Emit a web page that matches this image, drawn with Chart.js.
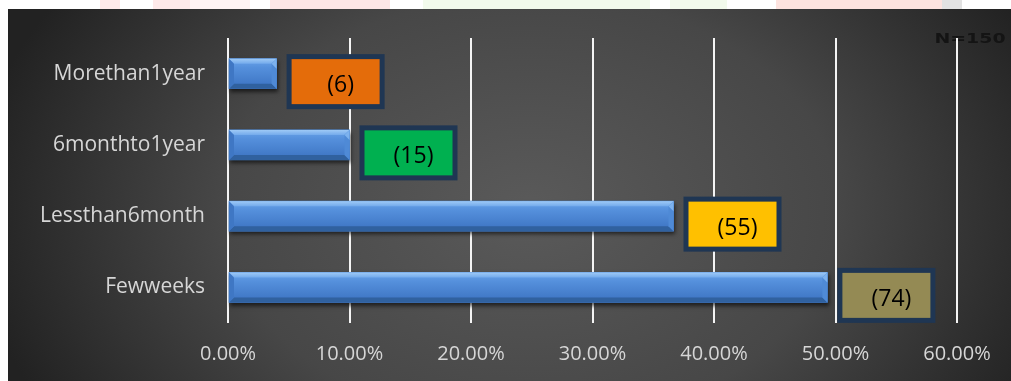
<!DOCTYPE html>
<html>
<head>
<meta charset="utf-8">
<script src="https://cdn.jsdelivr.net/npm/chart.js@4.4.1/dist/chart.umd.min.js"></script>
<style>
  html, body { margin: 0; padding: 0; background: #ffffff; }
  #wrap { width: 1011px; height: 381px; position: relative; }
</style>
</head>
<body>
<div id="wrap"><canvas id="durationChart"></canvas></div>
<script>
// Duration categories, top to bottom
const categories = ['Morethan1year', '6monthto1year', 'Lessthan6month', 'Fewweeks'];
// Number of respondents in each category
const respondents = [6, 15, 55, 74];
const totalRespondents = 150;
// Share of respondents, in percent
const shares = respondents.map(n => n / totalRespondents * 100);
// Value axis ticks (percent)
const axisTicks = [0, 10, 20, 30, 40, 50, 60];

// Fill colours of the count boxes
const boxColors = ['#e46c0a', '#00b050', '#ffc000', '#948a54'];
// Faint letterhead bands along the top edge: [from, to, colour]
const headerBands = [
  [100, 120, '#fee9e9'], [153, 190, '#fee9e9'], [190, 250, '#fff4f4'],
  [270, 390, '#fde6e6'], [423, 650, '#f2faec'], [670, 727, '#f2faec'],
  [776, 942, '#fde3df'], [942, 962, '#e2e2e2']
];

const backdrop = {
  id: 'backdrop',
  beforeDraw(chart) {
    const ctx = chart.ctx, W = chart.width, H = chart.height;
    ctx.save();
    ctx.fillStyle = '#ffffff';
    ctx.fillRect(0, 0, W, H);
    headerBands.forEach(([a, b, c]) => { ctx.fillStyle = c; ctx.fillRect(a, 0, b - a, 9); });

    // dark panel with a soft radial glow
    const px = 8, py = 9, cx = 530, cy = 210, sy = 0.7;
    ctx.save();
    ctx.beginPath();
    ctx.rect(px, py, W - px, H - py);
    ctx.clip();
    ctx.translate(cx, cy);
    ctx.scale(1, sy);
    const g = ctx.createRadialGradient(0, 0, 0, 0, 0, 560);
    g.addColorStop(0, '#5a5a5a');
    g.addColorStop(0.55, '#474747');
    g.addColorStop(1, '#222222');
    ctx.fillStyle = g;
    ctx.fillRect(-cx, -cy / sy, W, H / sy);
    ctx.restore();

    // sample size note
    ctx.save();
    ctx.translate(970, 39);
    ctx.scale(1.35, 1);
    ctx.font = 'bold 14px "DejaVu Sans"';
    ctx.textAlign = 'center';
    ctx.textBaseline = 'middle';
    ctx.fillStyle = '#141414';
    ctx.fillText('N=' + totalRespondents, 0, 0);
    ctx.restore();
    ctx.restore();
  }
};

function poly(ctx, pts, color) {
  ctx.beginPath();
  ctx.moveTo(pts[0][0], pts[0][1]);
  for (let i = 1; i < pts.length; i++) ctx.lineTo(pts[i][0], pts[i][1]);
  ctx.closePath();
  ctx.fillStyle = color;
  ctx.fill();
}

const bevelAndBoxes = {
  id: 'bevelAndBoxes',
  beforeDatasetsDraw(chart) {
    const ctx = chart.ctx;
    ctx.save();
    ctx.shadowColor = 'rgba(0,0,0,0.6)';
    ctx.shadowBlur = 4;
    ctx.shadowOffsetX = 1;
    ctx.shadowOffsetY = 3;
  },
  afterDatasetsDraw(chart) {
    const ctx = chart.ctx;
    ctx.restore();
    const meta = chart.getDatasetMeta(0);
    ctx.save();
    meta.data.forEach(bar => {
      const p = bar.getProps(['x', 'y', 'base', 'height'], true);
      const x0 = Math.min(p.x, p.base), x1 = Math.max(p.x, p.base);
      const y0 = p.y - p.height / 2, y1 = p.y + p.height / 2;
      const b = Math.min(5, (x1 - x0) / 2);
      const face = ctx.createLinearGradient(0, y0, 0, y1);
      face.addColorStop(0, '#6aa4ea');
      face.addColorStop(0.3, '#5590dc');
      face.addColorStop(1, '#3b72c1');
      ctx.fillStyle = face;
      ctx.fillRect(x0, y0, x1 - x0, y1 - y0);
      const top = ctx.createLinearGradient(0, y0, 0, y0 + b);
      top.addColorStop(0, '#9fcaf6');
      top.addColorStop(1, '#74abec');
      poly(ctx, [[x0, y0], [x1, y0], [x1 - b, y0 + b], [x0 + b, y0 + b]], top);
      poly(ctx, [[x0, y1], [x1, y1], [x1 - b, y1 - b], [x0 + b, y1 - b]], '#30619f');
      poly(ctx, [[x0, y0], [x0 + b, y0 + b], [x0 + b, y1 - b], [x0, y1]], '#3f77c4');
      poly(ctx, [[x1, y0], [x1 - b, y0 + b], [x1 - b, y1 - b], [x1, y1]], '#4f8ad6');
      poly(ctx, [[x1, y0], [x1 - b, y0 + b], [x1, y0 + 2 * b]], '#7db2ee');
    });

    // count boxes beside each bar
    ctx.font = '23px "Open Sans"';
    ctx.textAlign = 'center';
    ctx.textBaseline = 'middle';
    meta.data.forEach((bar, i) => {
      const p = bar.getProps(['x', 'y'], true);
      const bw = 98, bh = 55, bx = p.x + 10, by = p.y + 8 - bh / 2;
      ctx.fillStyle = '#1f3653';
      ctx.fillRect(bx, by, bw, bh);
      ctx.fillStyle = boxColors[i];
      ctx.fillRect(bx + 5, by + 5, bw - 10, bh - 10);
      ctx.fillStyle = '#000000';
      ctx.fillText('(' + respondents[i] + ')', bx + bw / 2 + 5, by + bh / 2 + 4);
    });
    ctx.restore();
  }
};

function build() {
  Chart.defaults.font.family = '"Open Sans", sans-serif';
  new Chart(document.getElementById('durationChart'), {
    type: 'bar',
    data: {
      labels: categories,
      datasets: [{
        data: shares,
        backgroundColor: '#4a86d4',
        borderWidth: 0,
        barThickness: 30
      }]
    },
    options: {
      indexAxis: 'y',
      responsive: true,
      maintainAspectRatio: false,
      devicePixelRatio: 1,
      animation: false,
      layout: { padding: { top: 38, right: 54, left: 0, bottom: 0 } },
      plugins: { legend: { display: false }, tooltip: { enabled: false } },
      scales: {
        x: {
          min: axisTicks[0],
          max: axisTicks[axisTicks.length - 1],
          afterBuildTicks: s => { s.ticks = axisTicks.map(v => ({ value: v })); },
          afterFit: s => { s.height = 58; },
          grid: { color: '#f4f4f4', lineWidth: 2, drawTicks: false },
          border: { display: false },
          ticks: {
            color: '#d6d6d6',
            padding: 19,
            font: { size: 20 },
            callback: v => v.toFixed(2) + '%'
          }
        },
        y: {
          afterFit: s => { s.width = 228; },
          grid: { display: false },
          border: { display: false },
          ticks: { color: '#d6d6d6', padding: 15, font: { size: 21 } }
        }
      }
    },
    plugins: [backdrop, bevelAndBoxes]
  });
}

Promise.all([
  document.fonts.load('20px "Open Sans"'),
  document.fonts.load('bold 14px "DejaVu Sans"')
]).then(build, build);
</script>
</body>
</html>
